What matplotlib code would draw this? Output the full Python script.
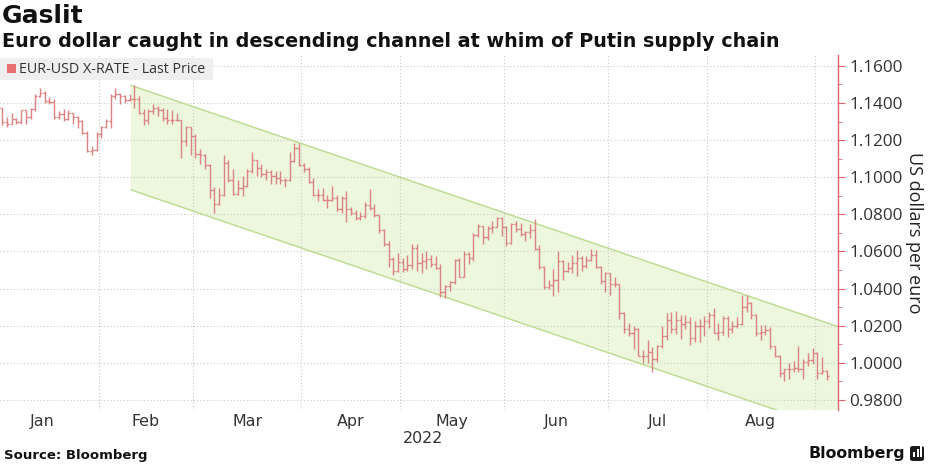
import numpy as np
import pandas as pd
import matplotlib
matplotlib.use('Agg')
from matplotlib import pyplot as plt
from matplotlib import font_manager
from matplotlib.collections import LineCollection
from matplotlib.patches import Rectangle, Polygon, FancyBboxPatch
from matplotlib.ticker import FixedLocator, MultipleLocator, FormatStrFormatter

# trading days shown on the chart
dates = pd.bdate_range('2022-01-03', '2022-09-05')

# EUR-USD daily bars
high_px = [
    # Jan
    1.1376, 1.1323, 1.1347, 1.1320, 1.1364, 1.1362, 1.1375, 1.1449, 1.1482, 1.1464, 1.1433,
    1.1421, 1.1359, 1.1369, 1.1364, 1.1348, 1.1330, 1.1306, 1.1249, 1.1169, 1.1242,
    # Feb
    1.1275, 1.1314, 1.1448, 1.1483, 1.1452, 1.1442, 1.1448, 1.1495, 1.1440, 1.1370,
    1.1368, 1.1395, 1.1384, 1.1374, 1.1367, 1.1362, 1.1344, 1.1310, 1.1274, 1.1272,
    # Mar
    1.1233, 1.1152, 1.1124, 1.1073, 1.0950, 1.0941, 1.1121, 1.1095, 1.1044, 1.0984, 1.1008,
    1.1043, 1.1138, 1.1093, 1.1074, 1.1047, 1.1041, 1.1035, 1.1036, 1.0998, 1.1137, 1.1185, 1.1184,
    # Apr
    1.1076, 1.1053, 1.0994, 1.0936, 1.0940, 1.0903, 1.0955, 1.0905, 1.0900, 1.0924, 1.0840,
    1.0825, 1.0812, 1.0868, 1.0936, 1.0858, 1.0797, 1.0723, 1.0654, 1.0568, 1.0592,
    # May
    1.0564, 1.0580, 1.0642, 1.0641, 1.0593, 1.0600, 1.0582, 1.0577, 1.0531, 1.0418, 1.0442,
    1.0558, 1.0564, 1.0604, 1.0598, 1.0697, 1.0748, 1.0737, 1.0736, 1.0765, 1.0787, 1.0785,
    # Jun
    1.0737, 1.0754, 1.0764, 1.0752, 1.0708, 1.0748, 1.0774, 1.0637, 1.0520, 1.0444, 1.0506,
    1.0601, 1.0552, 1.0545, 1.0582, 1.0606, 1.0575, 1.0573, 1.0614, 1.0606, 1.0523, 1.0488,
    # Jul
    1.0486, 1.0462, 1.0427, 1.0276, 1.0215, 1.0196, 1.0188, 1.0069, 1.0122, 1.0083, 1.0096,
    1.0200, 1.0269, 1.0273, 1.0278, 1.0257, 1.0258, 1.0249, 1.0226, 1.0234, 1.0254,
    # Aug
    1.0274, 1.0294, 1.0214, 1.0254, 1.0253, 1.0226, 1.0249, 1.0368, 1.0368, 1.0326, 1.0262,
    1.0202, 1.0203, 1.0191, 1.0090, 1.0040, 0.9968, 0.9998, 1.0011, 1.0090, 1.0020, 1.0054, 1.0079,
    # Sep
    1.0056, 1.0033, 0.9960,
]
low_px = [
    1.1280, 1.1272, 1.1285, 1.1285, 1.1286, 1.1285, 1.1314, 1.1357, 1.1432, 1.1400, 1.1393,
    1.1316, 1.1312, 1.1302, 1.1306, 1.1285, 1.1265, 1.1235, 1.1136, 1.1121, 1.1140,
    1.1210, 1.1265, 1.1266, 1.1420, 1.1395, 1.1400, 1.1411, 1.1374, 1.1340, 1.1280,
    1.1288, 1.1339, 1.1331, 1.1302, 1.1287, 1.1289, 1.1301, 1.1106, 1.1167, 1.1120,
    1.1105, 1.1071, 1.1047, 1.0890, 1.0806, 1.0850, 1.0900, 1.0974, 1.0906, 1.0906, 1.0901,
    1.0950, 1.1025, 1.1007, 1.1002, 1.0987, 1.0963, 1.0962, 1.0966, 1.0945, 1.0978, 1.1080, 1.1058,
    1.1027, 1.0967, 1.0899, 1.0873, 1.0872, 1.0836, 1.0870, 1.0820, 1.0808, 1.0757, 1.0797,
    1.0770, 1.0770, 1.0781, 1.0822, 1.0785, 1.0697, 1.0631, 1.0516, 1.0471, 1.0487,
    1.0492, 1.0494, 1.0505, 1.0493, 1.0484, 1.0508, 1.0516, 1.0505, 1.0354, 1.0350, 1.0389,
    1.0427, 1.0461, 1.0462, 1.0532, 1.0551, 1.0676, 1.0641, 1.0663, 1.0698, 1.0730, 1.0682,
    1.0627, 1.0642, 1.0704, 1.0682, 1.0654, 1.0673, 1.0609, 1.0506, 1.0398, 1.0397, 1.0359,
    1.0381, 1.0446, 1.0489, 1.0485, 1.0469, 1.0493, 1.0512, 1.0547, 1.0509, 1.0425, 1.0382,
    1.0366, 1.0409, 1.0236, 1.0162, 1.0144, 1.0072, 1.0034, 0.9998, 0.9999, 0.9952, 1.0006,
    1.0078, 1.0124, 1.0160, 1.0153, 1.0128, 1.0183, 1.0097, 1.0110, 1.0113, 1.0147,
    1.0189, 1.0162, 1.0123, 1.0148, 1.0141, 1.0160, 1.0189, 1.0202, 1.0276, 1.0237, 1.0147,
    1.0123, 1.0150, 1.0073, 1.0033, 0.9926, 0.9901, 0.9912, 0.9948, 0.9950, 0.9910, 0.9983, 0.9993,
    0.9910, 0.9941, 0.9905,
]
close_px = [
    1.1300, 1.1287, 1.1313, 1.1297, 1.1360, 1.1325, 1.1368, 1.1440, 1.1455, 1.1412, 1.1407,
    1.1325, 1.1343, 1.1312, 1.1344, 1.1327, 1.1302, 1.1241, 1.1144, 1.1146, 1.1234,
    1.1271, 1.1304, 1.1440, 1.1450, 1.1440, 1.1417, 1.1422, 1.1424, 1.1349, 1.1306,
    1.1358, 1.1374, 1.1364, 1.1322, 1.1308, 1.1309, 1.1308, 1.1195, 1.1271, 1.1221,
    1.1124, 1.1121, 1.1064, 1.0930, 1.0854, 1.0904, 1.1076, 1.0985, 1.0912, 1.0941, 1.0955,
    1.1036, 1.1091, 1.1050, 1.1016, 1.1030, 1.1006, 1.0995, 1.0983, 1.0986, 1.1088, 1.1159, 1.1067,
    1.1046, 1.0972, 1.0905, 1.0902, 1.0878, 1.0877, 1.0886, 1.0830, 1.0890, 1.0827, 1.0810,
    1.0780, 1.0790, 1.0853, 1.0837, 1.0796, 1.0715, 1.0640, 1.0557, 1.0497, 1.0545,
    1.0507, 1.0525, 1.0620, 1.0540, 1.0550, 1.0560, 1.0530, 1.0512, 1.0380, 1.0412, 1.0437,
    1.0552, 1.0465, 1.0587, 1.0563, 1.0690, 1.0735, 1.0678, 1.0726, 1.0733, 1.0778, 1.0733,
    1.0648, 1.0750, 1.0719, 1.0694, 1.0704, 1.0716, 1.0615, 1.0518, 1.0409, 1.0417, 1.0446,
    1.0549, 1.0495, 1.0513, 1.0536, 1.0566, 1.0522, 1.0554, 1.0583, 1.0518, 1.0443, 1.0484,
    1.0425, 1.0424, 1.0266, 1.0183, 1.0160, 1.0184, 1.0039, 1.0036, 1.0060, 1.0019, 1.0088,
    1.0143, 1.0228, 1.0180, 1.0230, 1.0211, 1.0222, 1.0135, 1.0200, 1.0197, 1.0225,
    1.0260, 1.0163, 1.0164, 1.0244, 1.0180, 1.0197, 1.0211, 1.0298, 1.0320, 1.0258, 1.0159,
    1.0168, 1.0177, 1.0088, 1.0038, 0.9943, 0.9966, 0.9969, 0.9972, 0.9965, 1.0002, 1.0015, 1.0055,
    0.9944, 0.9954, 0.9928,
]
# FX bars open where the previous one closed
open_px = [1.1372] + close_px[:-1]

# descending channel drawn by Bloomberg (start/end bar index, values)
chan_x = [27.3, 177.4]
chan_top = [1.1495, 1.0195]
chan_bottom = [1.0932, 0.9632]

y_ticks = [0.98, 1.00, 1.02, 1.04, 1.06, 1.08, 1.10, 1.12, 1.14, 1.16]
month_names = ['Jan', 'Feb', 'Mar', 'Apr', 'May', 'Jun', 'Jul', 'Aug']

n = min(len(dates), len(close_px))
dates = dates[:n]
x = np.arange(n)

names = {f.name for f in font_manager.fontManager.ttflist}
has_narrow = 'Liberation Sans Narrow' in names
narrow = 'Liberation Sans Narrow' if has_narrow else 'DejaVu Sans'
narrow_scale = 1.0 if has_narrow else 0.88
logo_size = 14.5 if has_narrow else 11.3
body = 'Open Sans' if 'Open Sans' in names else 'DejaVu Sans'

bar_color = '#dd8282'
axis_red = '#e06470'
grid_color = '#c9c9c9'

fig = plt.figure(figsize=(9.3, 4.65), dpi=100)
fig.patch.set_facecolor('white')
ax = fig.add_axes([0, 1 - 410 / 465, 838 / 930, (410 - 55) / 465])

# channel
ax.add_patch(Polygon([(chan_x[0], chan_top[0]), (chan_x[1], chan_top[1]),
                      (chan_x[1], chan_bottom[1]), (chan_x[0], chan_bottom[0])],
                     closed=True, facecolor='#edf7dd', edgecolor='none', zorder=0))
ax.plot(chan_x, chan_top, color='#b9db8e', lw=1.0, zorder=1)
ax.plot(chan_x, chan_bottom, color='#b9db8e', lw=1.0, zorder=1)

# OHLC bars
segs = []
for i in x:
    segs.append([(i, low_px[i]), (i, high_px[i])])
    segs.append([(i - 0.45, open_px[i]), (i, open_px[i])])
    segs.append([(i, close_px[i]), (i + 0.45, close_px[i])])
ax.add_collection(LineCollection(segs, colors=bar_color, linewidths=1.0, zorder=3))

ax.set_xlim(-0.5, 177.4)
ax.set_ylim(0.97455, 1.1659)

# month labels in the middle, grid at month boundaries
months = dates.month
centers = []
bounds = []
for m in range(1, 9):
    idx = np.where(months == m)[0]
    centers.append((idx[0] + idx[-1]) / 2)
    if m > 1:
        bounds.append(idx[0] - 0.5)
bounds.append(np.where(months == 9)[0][0] - 0.5)
centers[0] -= 1.5
ax.xaxis.set_major_locator(FixedLocator(centers))
ax.set_xticklabels(month_names)
ax.xaxis.set_minor_locator(FixedLocator(bounds))
ax.tick_params(axis='x', which='both', length=0, pad=3, labelsize=13 * narrow_scale,
               labelcolor='#333333')
for t in ax.get_xticklabels():
    t.set_family(narrow)
ax.xaxis.grid(True, which='minor', color=grid_color, linestyle=(0, (1, 2)), lw=0.8)

ax.yaxis.tick_right()
ax.yaxis.set_major_locator(FixedLocator(y_ticks))
ax.yaxis.set_minor_locator(MultipleLocator(0.01))
ax.yaxis.set_major_formatter(FormatStrFormatter('%.4f'))
ax.tick_params(axis='y', which='major', length=5, color=axis_red, pad=3,
               labelsize=12.3, labelcolor='#333333')
ax.tick_params(axis='y', which='minor', length=3, color=axis_red)
for t in ax.get_yticklabels():
    t.set_family(body)
ax.yaxis.grid(True, which='major', color=grid_color, linestyle=(0, (1, 2)), lw=0.8)
ax.set_axisbelow(True)

ax.yaxis.set_label_position('right')
ax.set_ylabel('US dollars per euro', rotation=270, labelpad=15, fontsize=13,
              family=body, color='#222222')

for s in ['top', 'left', 'bottom']:
    ax.spines[s].set_visible(False)
ax.spines['right'].set_color(axis_red)
ax.spines['right'].set_linewidth(1.0)

ax.text(423 / 838, -0.058, '2022', transform=ax.transAxes, ha='center', va='top',
        fontsize=13 * narrow_scale, family=narrow, color='#333333')

# titles
fig.text(0.002, 1 - 4 / 465, 'Gaslit', ha='left', va='top', fontsize=18,
         fontweight='bold', family='DejaVu Sans', color='#111111')
fig.text(0.002, 1 - 32 / 465,
         'Euro dollar caught in descending channel at whim of Putin supply chain',
         ha='left', va='top', fontsize=13.8, fontweight='bold', family='DejaVu Sans',
         color='#111111')

# legend box
fig.add_artist(Rectangle((0, 1 - 80 / 465), 213 / 930, 22 / 465, transform=fig.transFigure,
                         facecolor='#efefef', edgecolor='none', zorder=5))
fig.add_artist(Rectangle((7 / 930, 1 - 73 / 465), 9 / 930, 9 / 465, transform=fig.transFigure,
                         facecolor='#e86f6f', edgecolor='none', zorder=6))
fig.text(19 / 930, 1 - 69 / 465, 'EUR-USD X-RATE - Last Price', ha='left', va='center',
         fontsize=10.3, family=body, color='#333333', zorder=6)

# footer
fig.text(4 / 930, 1 - 455 / 465, 'Source: Bloomberg', ha='left', va='center',
         fontsize=9.5, fontweight='bold', family='DejaVu Sans', color='#111111')
fig.text(905 / 930, 1 - 453 / 465, 'Bloomberg', ha='right', va='center',
         fontsize=logo_size, fontweight='bold', family=narrow, color='#111111')
fig.add_artist(FancyBboxPatch((910 / 930, 1 - 461 / 465), 14 / 930, 15 / 465,
                              boxstyle='round,pad=0,rounding_size=0.004',
                              transform=fig.transFigure, facecolor='#1a1a1a',
                              edgecolor='none'))
for bx, bh in [(913, 5), (916.5, 8), (920, 11)]:
    fig.add_artist(Rectangle((bx / 930, 1 - 457 / 465), 2 / 930, bh / 465,
                             transform=fig.transFigure, facecolor='white', edgecolor='none'))

fig.savefig('out.png', dpi=100)
